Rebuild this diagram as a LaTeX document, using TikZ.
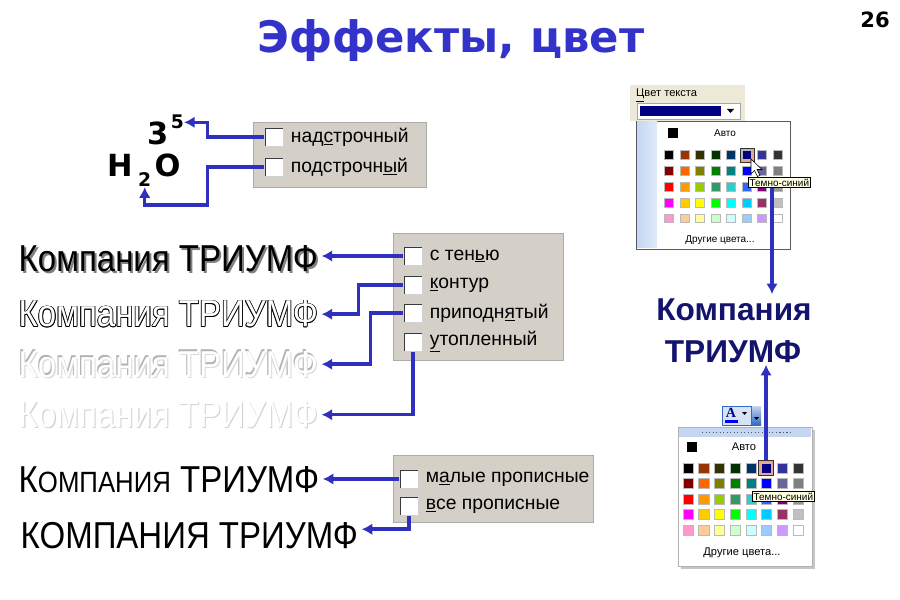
\documentclass[tikz,border=0pt]{standalone}
\usepackage{fontspec}
\setmainfont{Liberation Sans}
\newfontfamily\verdanafont{DejaVu Sans}
\newfontfamily\narrowfont{Liberation Sans}[FakeStretch=0.88]
\newfontfamily\seriffont{Liberation Serif}
\usetikzlibrary{arrows.meta,positioning,calc}
\definecolor{titleblue}{RGB}{51,51,204}
\definecolor{linkblue}{RGB}{48,48,190}
\definecolor{navytext}{RGB}{20,20,110}
\definecolor{darknavy}{RGB}{0,0,128}
\definecolor{panelgray}{RGB}{212,208,200}
\definecolor{dialogbeige}{RGB}{236,233,216}
\definecolor{stripblue}{RGB}{196,214,242}
\definecolor{tipyellow}{RGB}{255,255,225}
\definecolor{selframe}{RGB}{232,165,145}
\definecolor{menuborder}{RGB}{90,90,100}
\definecolor{btnborder}{RGB}{49,106,197}
% one copy of the sample text, shifted, under the text that follows it
\newcommand{\compname}{Компания ТРИУМФ}
\newcommand{\txtlayer}[3]{\rlap{\hspace*{#1}\raisebox{#2}{\textcolor{#3}{\compname}}}}

\begin{document}
\begin{tikzpicture}[x=0.03cm, y=-0.03cm,
    link/.style={draw=linkblue, line width=3pt, -{Latex[length=9pt,width=10pt]}},
    optpanel/.style={draw=gray!65, fill=panelgray},
    cbox/.style={draw=gray!35, fill=white, inner sep=0pt, minimum size=16pt,
        path picture={\draw[gray!45!black, line width=3pt]
            (path picture bounding box.south west) |- (path picture bounding box.north east);}},
    cblabel/.style={font=\fontsize{16.5}{18}\selectfont, anchor=west, inner sep=0pt},
    comp/.style={font=\narrowfont\fontsize{32}{34}\selectfont, anchor=base west,
        inner xsep=3pt, inner ysep=0pt},
    bigdigit/.style={font=\verdanafont\bfseries\fontsize{26}{28}\selectfont,
        anchor=base west, inner sep=0pt},
    smalldigit/.style={font=\verdanafont\bfseries\fontsize{16}{18}\selectfont,
        anchor=base west, inner sep=0pt},
    swatch/.style={draw=gray!55, line width=0.4pt, inner sep=0pt, minimum size=7.6pt},
    selbox/.style={draw=black!80, fill=selframe, inner sep=0pt, minimum size=12pt},
    tooltip/.style={draw=black, fill=tipyellow, inner sep=1.2pt,
        font=\fontsize{8.5}{9}\selectfont},
    menutext/.style={font=\fontsize{8.5}{9}\selectfont, inner sep=0pt}
]
\useasboundingbox[fill=white] (0,0) rectangle (900,600);

% title and page number
\node[font=\verdanafont\bfseries\fontsize{37}{40}\selectfont, text=titleblue, anchor=base]
    (title) at (451,53) {Эффекты, цвет};
\node[font=\verdanafont\bfseries\fontsize{18}{20}\selectfont, anchor=base east, inner sep=0pt]
    (page) at (890,28) {26};

% superscript / subscript
\draw[optpanel] (253,122) rectangle (426,187);
\node[cbox] (cbSup) at (274,137) {};
\node[cbox] (cbSub) at (274,167) {};
\node[cblabel, right=6pt of cbSup] (lblSup) {над\underline{с}трочный};
\node[cblabel, right=6pt of cbSub] (lblSub) {подстрочн\underline{ы}й};

\node[bigdigit] (three) at (147,145) {3};
\node[smalldigit] (five) at ($(three.base east)+(2,-16)$) {5};
\node[bigdigit] (hLetter) at (107,177) {H};
\node[smalldigit] (sub2) at ($(hLetter.base east)+(5,10)$) {2};
\node[bigdigit] (oLetter) at ($(sub2.base east)+(3,-10)$) {O};

\draw[link] (cbSup.west) -- ++(-57,0) |- (five.east);
\draw[link] (cbSub.west) -- ++(-57,0) -- ++(0,38) -| (sub2.south);

% text effects
\draw[optpanel] (393,233) rectangle (563,360);
\node[cbox] (cbShadow) at (413,256) {};
\node[cbox] (cbOutline) at (413,285) {};
\node[cbox] (cbEmboss) at (413,313) {};
\node[cbox] (cbEngrave) at (413,342) {};
\node[cblabel, right=6pt of cbShadow] (lblShadow) {с тен\underline{ь}ю};
\node[cblabel, right=6pt of cbOutline] (lblOutline) {\underline{к}онтур};
\node[cblabel, right=6pt of cbEmboss] (lblEmboss) {приподн\underline{я}тый};
\node[cblabel, right=6pt of cbEngrave] (lblEngrave) {\underline{у}топленный};

\node[comp] (txtShadow) at (15,272) {\txtlayer{1.7pt}{-1.7pt}{gray}\compname};
\node[comp] (txtOutline) at (15,327) {%
    \txtlayer{-0.7pt}{0pt}{black}\txtlayer{0.7pt}{0pt}{black}%
    \txtlayer{0pt}{0.7pt}{black}\txtlayer{0pt}{-0.7pt}{black}%
    \txtlayer{0.5pt}{0.5pt}{black}\txtlayer{-0.5pt}{0.5pt}{black}%
    \txtlayer{0.5pt}{-0.5pt}{black}\txtlayer{-0.5pt}{-0.5pt}{black}%
    \textcolor{white}{\compname}};
\node[comp] (txtEmboss) at (15,377) {%
    \txtlayer{-0.9pt}{0.9pt}{gray!60}\txtlayer{0.9pt}{-0.9pt}{gray!30}%
    \textcolor{white}{\compname}};
\node[comp] (txtEngrave) at (15,427) {%
    \txtlayer{0.9pt}{-0.9pt}{gray!35}\textcolor{white}{\compname}};

\draw[link] (cbShadow.west) -- (cbShadow.west -| txtShadow.east);
\draw[link] (cbOutline.west) -- ++(-45,0) |- (txtOutline.east);
\draw[link] (cbEmboss.west) -- ++(-33,0) |- (txtEmboss.east);
\draw[link] (cbEngrave.south) |- (txtEngrave.east);

% capitals
\draw[optpanel] (393,455) rectangle (593,522);
\node[cbox] (cbSmall) at (409,479) {};
\node[cbox] (cbCaps) at (409,506) {};
\node[cblabel, right=6pt of cbSmall] (lblSmall) {м\underline{а}лые прописные};
\node[cblabel, right=6pt of cbCaps] (lblCaps) {\underline{в}се прописные};

\node[comp] (txtSmall) at (15,492) {К{\fontsize{25}{26}\selectfont ОМПАНИЯ} ТРИУМФ};
\node[comp] (txtCaps) at (17,548) {КОМПАНИЯ ТРИУМФ};

\draw[link] (cbSmall.west) -- (cbSmall.west -| txtSmall.east);
\draw[link] (cbCaps.south) |- ([yshift=5pt]txtCaps.east);

% coloured result
\node[font=\bfseries\fontsize{27}{30}\selectfont, text=navytext, anchor=base]
    (compTop) at (734,320) {Компания};
\node[font=\bfseries\fontsize{27}{30}\selectfont, text=navytext, anchor=base, inner sep=2pt]
    (compBot) at (733,362) {ТРИУМФ};

% font colour dialog (top)
\fill[dialogbeige] (630,85) rectangle (745,121);
\node[menutext, font=\fontsize{9.5}{10}\selectfont, anchor=base west]
    (colorLabel) at (636,97) {\underline{Ц}вет текста};
\draw[gray!70, fill=white] (637,103) rectangle (740,119);
\fill[darknavy] (640,106) rectangle (721,116);
\fill[black] (727,109) -- (734,109) -- (730.5,113) -- cycle;
\draw[menuborder, fill=white] (636,121) rectangle (790,249);
\shade[left color=stripblue, right color=stripblue!50] (637,122) rectangle (657,248);
\node[fill=black, inner sep=0pt, minimum size=8pt] (autoTop) at (673,133) {};
\node[menutext] (autoTopText) at (725,133) {Авто};
\node[selbox] (selTop) at (747,155) {};
\node[menutext] (moreTop) at (720,240) {Другие цвета...};

% font colour dialog (bottom)
\fill[stripblue!70] (722,406) rectangle (751,425);
\draw[btnborder] (722,406) rectangle (751,425);
\node[font=\seriffont\bfseries\fontsize{12}{12}\selectfont, text=darknavy, inner sep=0pt]
    (btnA) at (731,413) {A};
\fill[blue] (725,420) rectangle (738,422.5);
\fill[black] (742,412) -- (747,412) -- (744.5,415) -- cycle;
\shade[top color=stripblue, bottom color=btnborder] (752,406) rectangle (761,425);
\fill[black] (754,417) -- (759,417) -- (756.5,420) -- cycle;
\fill[gray!45] (681,430) rectangle (815,569);
\draw[gray!60, fill=white] (678,427) rectangle (812,566);
\fill[stripblue] (679,428) rectangle (811,437);
\draw[gray!70!black, dotted, line width=1pt] (702,432.5) -- (790,432.5);
\node[fill=black, inner sep=0pt, minimum size=9pt] (autoBot) at (692,447) {};
\node[menutext, font=\fontsize{9.5}{10}\selectfont] (autoBotText) at (744,447) {Авто};
\node[selbox, minimum size=13pt] (selBot) at (766,468) {};
\node[menutext, font=\fontsize{9.5}{10}\selectfont] (moreBot) at (742,553) {Другие цвета...};

% palettes
\foreach \hex [count=\i from 0] in {000000,993300,333300,003300,003366,000080,333399,333333,
    800000,FF6600,808000,008000,008080,0000FF,666699,808080,
    FF0000,FF9900,99CC00,339966,33CCCC,3366FF,800080,969696,
    FF00FF,FFCC00,FFFF00,00FF00,00FFFF,00CCFF,993366,C0C0C0,
    FF99CC,FFCC99,FFFF99,CCFFCC,CCFFFF,99CCFF,CC99FF,FFFFFF}{
    \pgfmathtruncatemacro\swc{mod(\i,8)}
    \pgfmathtruncatemacro\swr{int(\i/8)}
    \definecolor{swatchcol}{HTML}{\hex}
    \node[swatch, fill=swatchcol] (topSw\i) at (669+15.5*\swc, 155+15.8*\swr) {};
    \node[swatch, fill=swatchcol, minimum size=8.6pt] (botSw\i) at (688+15.7*\swc, 468+15.5*\swr) {};
}

% tooltips and cursor
\node[tooltip, anchor=north west] (tipTop) at (748,177) {Темно-синий};
\node[tooltip, anchor=north west] (tipBot) at (752,491) {Темно-синий};
\draw[fill=white, line width=0.5pt] (751,159) -- ++(0,15) -- ++(3.5,-3.5) -- ++(3,6)
    -- ++(2.5,-1.2) -- ++(-3,-5.8) -- ++(5,0) -- cycle;

\coordinate (topLineX) at (772,0);
\draw[link] (tipTop.south -| topLineX) -- (topLineX |- compTop.north);
\draw[link] (selBot.north) -- (selBot.north |- compBot.south);
\end{tikzpicture}
\end{document}
